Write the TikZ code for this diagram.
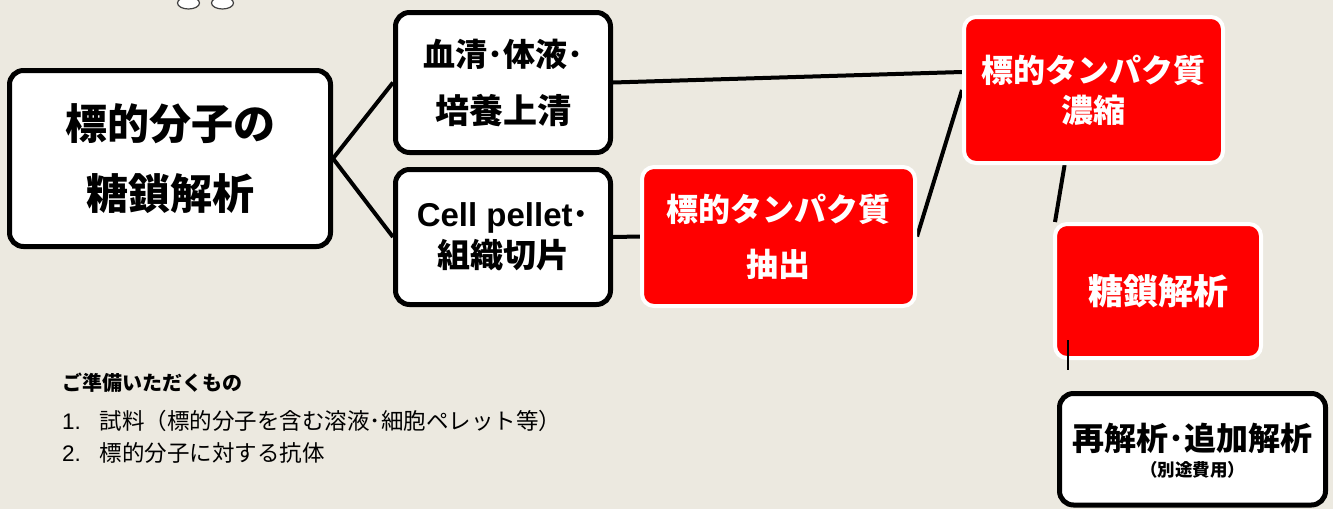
\documentclass[tikz,border=0pt]{standalone}
\usepackage{fontspec}
\setmainfont{Liberation Sans}
\newfontfamily\jp{Noto Sans CJK JP}
\usetikzlibrary{calc}
\pgfdeclarelayer{bg}
\pgfdeclarelayer{lines}
\pgfsetlayers{bg,lines,main}
\definecolor{paper}{RGB}{236,233,224}
\definecolor{boxred}{RGB}{255,0,0}
\begin{document}
\begin{tikzpicture}[x=1pt,y=-1pt,
  wbox/.style={draw=black, fill=white, line width=5pt, rounded corners=14pt, inner sep=0pt, align=center},
  rbox/.style={draw=white, fill=boxred, line width=4pt, rounded corners=12pt, inner sep=0pt, align=center, text=white},
  conn/.style={line width=4pt, draw=black},
  plain/.style={inner sep=0pt, anchor=base west}]
\begin{pgfonlayer}{bg}
  \fill[paper] (0,0) rectangle (1333,509);
\end{pgfonlayer}
\useasboundingbox (0,0) rectangle (1333,509);
% cut-off letters at the top
\draw[black!75, fill=white, line width=1.2pt] (188.5,3) ellipse [x radius=11pt, y radius=6pt];
\draw[black!75, fill=white, line width=1.2pt] (222.5,3) ellipse [x radius=11pt, y radius=6pt];

\node[wbox, minimum width=321pt, minimum height=176pt, font=\jp\bfseries\fontsize{42}{70}\selectfont] (main) at (170,158.5) {標的分子の\\糖鎖解析};
\node[wbox, minimum width=215pt, minimum height=140pt, font=\jp\bfseries\fontsize{32}{57}\selectfont] (b2) at (503,82.5) {血清･体液･\\{\fontsize{34}{57}\selectfont 培養上清}};
\node[wbox, minimum width=215pt, minimum height=135pt, font=\jp\bfseries\fontsize{33}{41}\selectfont] (b3) at (503,237) {{\rmfamily\bfseries Cell pellet}･\\組織切片};
\node[rbox, minimum width=273pt, minimum height=139pt, font=\jp\bfseries\fontsize{32}{55}\selectfont] (ext) at (778.5,236.5) {標的タンパク質\\抽出};
\node[rbox, minimum width=259pt, minimum height=146pt, font=\jp\bfseries\fontsize{32}{40}\selectfont] (conc) at (1093.5,90) {標的タンパク質\\濃縮};
\node[rbox, minimum width=206pt, minimum height=134pt, font=\jp\bfseries\fontsize{35}{40}\selectfont] (gly) at (1158,291) {糖鎖解析};
\node[wbox, minimum width=266pt, minimum height=111.5pt] (re) at (1192.5,449.25) {};
\node[inner sep=0pt, font=\jp\bfseries\fontsize{32}{36}\selectfont] (reA) at (1192.5,438) {再解析･追加解析};
\node[inner sep=0pt, font=\jp\bfseries\fontsize{17.5}{20}\selectfont] (reB) at (1192.5,470) {（別途費用）};

\begin{pgfonlayer}{lines}
  \draw[conn] (main.east) -- (b2.west);
  \draw[conn] (main.east) -- (b3.west);
  \draw[conn] (b2.east) -- ($(conc.north west)!0.38!(conc.south west)$);
  \draw[conn] (b3.east) -- (ext.west);
  \draw[conn] (ext.east) -- (conc.west);
  \draw[conn] ($(conc.south west)!0.39!(conc.south east)$) -- ($(gly.north west)+(2,0)$);
\end{pgfonlayer}
\coordinate (t1) at (1068,340);
\coordinate (t2) at (1068,370);
\draw[line width=2pt, black] (t1) -- (t2);

\node[plain, font=\jp\bfseries\fontsize{20}{24}\selectfont] (prep) at (62,390) {ご準備いただくもの};
\node[plain, font=\jp\fontsize{22.5}{26}\selectfont] (item1) at (62,429) {{\rmfamily 1.}\hspace{19pt}試料（標的分子を含む溶液･細胞ペレット等）};
\node[plain, font=\jp\fontsize{22.5}{26}\selectfont] (item2) at (62,461) {{\rmfamily 2.}\hspace{19pt}標的分子に対する抗体};
\end{tikzpicture}
\end{document}
